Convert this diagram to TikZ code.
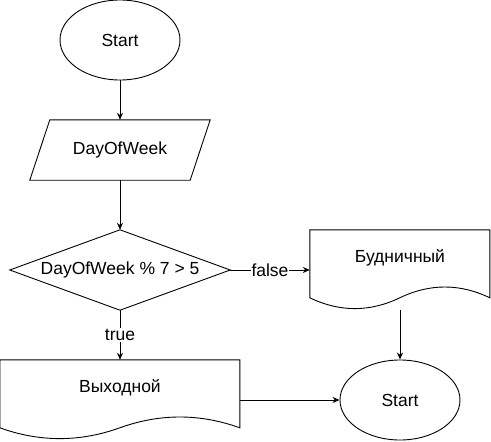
\documentclass[tikz,border=0pt]{standalone}
\usepackage{fontspec}
\setmainfont{Liberation Sans}
\usetikzlibrary{shapes.geometric,arrows.meta}
\tikzset{
  ln/.style={line width=0.9pt, draw=black},
  arr/.style={ln, -{Stealth[length=7pt,width=6pt]}},
  term/.style={ellipse, ln, minimum width=120pt, minimum height=80pt, inner sep=0pt, font=\fontsize{17.5}{20}\selectfont},
  box/.style={rectangle, draw=none, inner sep=0pt, font=\fontsize{17.5}{20}\selectfont},
  lbl/.style={fill=white, inner sep=1pt, font=\fontsize{17.5}{20}\selectfont},
}
\newcommand\mydoc[3]{% node, width, height
  \draw[ln, shift={(#1.north west)}] (0,0) -- (#2,0) -- (#2,0.85*#3)
    .. controls ({5*#2/6},0.67*#3) and ({2*#2/3},0.67*#3) .. ({#2/2},0.85*#3)
    .. controls ({#2/3},1.03*#3) and ({#2/6},1.03*#3) .. (0,0.85*#3) -- cycle;}
\begin{document}
\begin{tikzpicture}[x=1pt,y=-1pt]
\useasboundingbox (0,0) rectangle (491,442);
\node[term] (s1) at (120,40) {Start};
\node[box, minimum width=180pt, minimum height=60pt] (p) at (120,150) {DayOfWeek};
\draw[ln] ([xshift=20pt]p.north west) -- (p.north east) -- ([xshift=-20pt]p.south east) -- (p.south west) -- cycle;
\node[box, minimum width=220pt, minimum height=80pt] (d) at (120,270) {DayOfWeek \% 7 > 5};
\draw[ln] (d.north) -- (d.east) -- (d.south) -- (d.west) -- cycle;
\node[box, minimum width=180pt, minimum height=80pt, label={[box,yshift=12pt]center:Будничный}] (b) at (400,270) {};
\mydoc{b}{180}{80}
\node[box, minimum width=240pt, minimum height=80pt, label={[box,yshift=12pt]center:Выходной}] (w) at (120,400) {};
\mydoc{w}{240}{80}
\node[term] (s2) at (400,400) {Start};
\draw[arr] (s1.south) -- (p.north);
\draw[arr] (p.south) -- (d.north);
\draw[arr] (d.east) -- node[lbl] {false} (b.west);
\draw[arr] (d.south) -- node[lbl] {true} (w.north);
\draw[arr] (b.south) -- (s2.north);
\draw[arr] (w.east) -- (s2.west);
\end{tikzpicture}
\end{document}
